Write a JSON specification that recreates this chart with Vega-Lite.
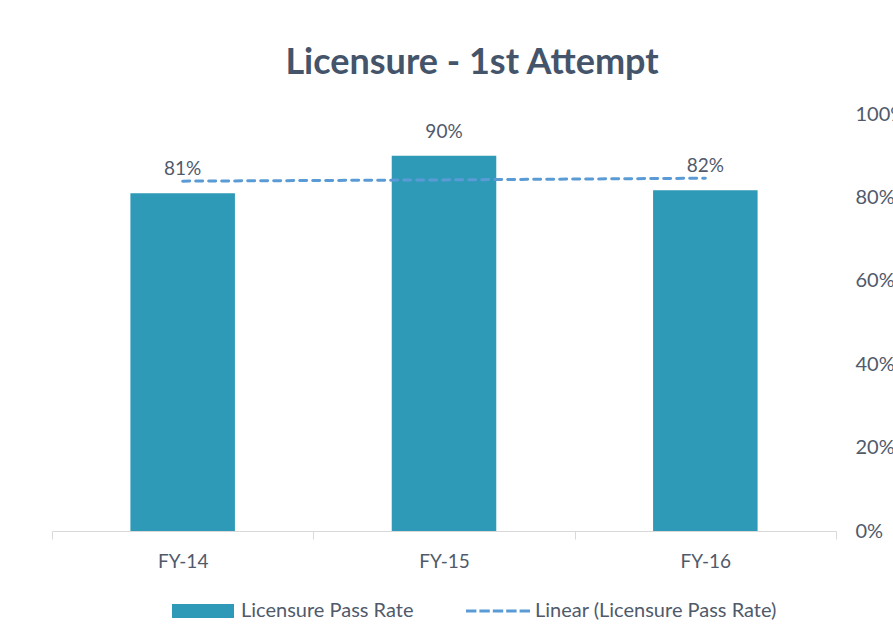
{
  "$schema": "https://vega.github.io/schema/vega-lite/v6.json",
  "width": 784,
  "height": 417,
  "padding": {"left": 51, "top": 45, "right": 0, "bottom": 0},
  "background": "white",
  "datasets": {
    "bars": [
      {"year": "FY-14", "rate": 0.81, "series": "Licensure Pass Rate"},
      {"year": "FY-15", "rate": 0.90, "series": "Licensure Pass Rate"},
      {"year": "FY-16", "rate": 0.817, "series": "Licensure Pass Rate"}
    ],
    "trend": [
      {"year": "FY-14", "trend": 0.839, "series": "Linear (Licensure Pass Rate)"},
      {"year": "FY-15", "trend": 0.842, "series": "Linear (Licensure Pass Rate)"},
      {"year": "FY-16", "trend": 0.846, "series": "Linear (Licensure Pass Rate)"}
    ]
  },
  "title": {
    "text": "Licensure - 1st Attempt",
    "font": "Lato",
    "fontSize": 36,
    "fontWeight": "bold",
    "color": "#44546A",
    "anchor": "middle",
    "dx": 28,
    "offset": 22
  },
  "encoding": {
    "x": {
      "field": "year",
      "type": "ordinal",
      "scale": {"paddingInner": 0, "paddingOuter": 0},
      "axis": {
        "title": null,
        "labelAngle": 0,
        "domainColor": "#D9D9D9",
        "tickColor": "#D9D9D9",
        "tickSize": 8,
        "tickBand": "extent",
        "labelFont": "Lato",
        "labelFontSize": 19,
        "labelColor": "#505A6B",
        "labelPadding": 13
      }
    }
  },
  "layer": [
    {
      "data": {"name": "bars"},
      "mark": {"type": "bar", "color": "#2E9AB8", "width": {"band": 0.4}},
      "encoding": {
        "y": {
          "field": "rate",
          "type": "quantitative",
          "scale": {"domain": [0, 1], "nice": false},
          "axis": {
            "orient": "right",
            "title": null,
            "values": [0, 0.2, 0.4, 0.6, 0.8, 1],
            "format": ".0%",
            "domain": false,
            "ticks": false,
            "grid": false,
            "labelFont": "Lato",
            "labelFontSize": 20,
            "labelColor": "#505A6B",
            "labelPadding": 19
          }
        },
        "color": {
          "field": "series",
          "type": "nominal",
          "scale": {
            "domain": ["Licensure Pass Rate", "Linear (Licensure Pass Rate)"],
            "range": ["#2E9AB8", "#5B9BD5"]
          },
          "legend": {
            "title": null,
            "orient": "none",
            "direction": "horizontal",
            "legendX": 118,
            "legendY": 487,
            "symbolSize": 256,
            "symbolStrokeWidth": 0,
            "labelOffset": 51,
            "columnPadding": 50,
            "labelLimit": 400,
            "labelFont": "Lato",
            "labelFontSize": 20,
            "labelColor": "#505A6B",
            "encode": {
              "symbols": {
                "update": {
                  "shape": {"signal": "datum.value === 'Licensure Pass Rate' ? 'M-1,-0.875H6.75V0.875H-1Z' : 'M-1,-0.1875H0.3V0.1875H-1Z M0.675,-0.1875H1.975V0.1875H0.675Z M2.35,-0.1875H3.65V0.1875H2.35Z M4.025,-0.1875H5.325V0.1875H4.025Z M5.7,-0.1875H7V0.1875H5.7Z'"},
                  "fill": {"signal": "datum.value === 'Licensure Pass Rate' ? '#2E9AB8' : '#5B9BD5'"},
                  "stroke": {"value": "transparent"},
                  "strokeWidth": {"value": 0},
                  "opacity": {"value": 1}
                }
              }
            }
          }
        }
      }
    },
    {
      "data": {"name": "bars"},
      "mark": {"type": "text", "font": "Lato", "fontSize": 19, "color": "#505A6B", "baseline": "alphabetic", "dy": -18},
      "encoding": {
        "y": {"field": "rate", "type": "quantitative"},
        "text": {"field": "rate", "type": "quantitative", "format": ".0%"}
      }
    },
    {
      "data": {"name": "trend"},
      "mark": {"type": "line", "strokeWidth": 3, "strokeDash": [7, 6], "strokeCap": "round"},
      "encoding": {
        "y": {"field": "trend", "type": "quantitative"},
        "color": {"field": "series", "type": "nominal"}
      }
    }
  ],
  "config": {
    "view": {"stroke": null}
  }
}
